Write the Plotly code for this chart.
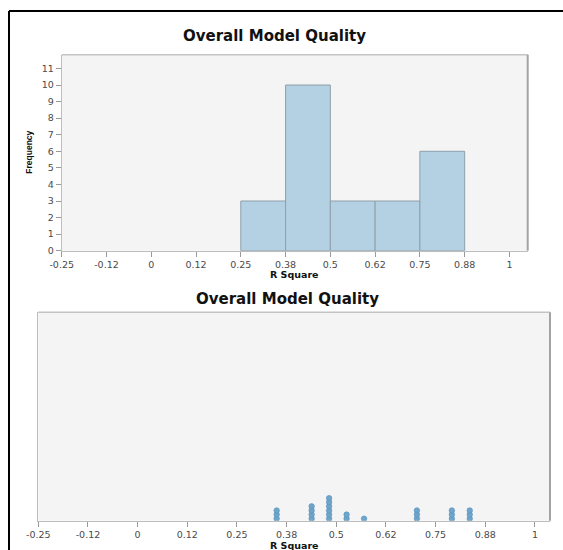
import plotly.graph_objects as go

# ---- data ----
r_square = [0.35, 0.35, 0.35,
            0.438, 0.438, 0.438, 0.438,
            0.482, 0.482, 0.482, 0.482, 0.482, 0.482,
            0.526, 0.526,
            0.570,
            0.703, 0.703, 0.703,
            0.791, 0.791, 0.791,
            0.836, 0.836, 0.836]
tick_vals = [-0.25, -0.125, 0, 0.125, 0.25, 0.375, 0.5, 0.625, 0.75, 0.875, 1]
tick_text = ["-0.25", "-0.12", "0", "0.12", "0.25", "0.38", "0.5", "0.62", "0.75", "0.88", "1"]
y_ticks = list(range(0, 12))
title_text = "Overall Model Quality"
x_title = "R Square"
y_title = "Frequency"

W, H = 563, 550
def xp(px): return px / W
def yp(py): return 1 - py / H

# stack positions for dot plot
stack_y = []
seen = {}
for v in r_square:
    k = seen.get(v, 0)
    stack_y.append(k + 0.5)
    seen[v] = k + 1

FONT = "Liberation Sans, Arial, sans-serif"
WIDE = "DejaVu Sans, Verdana, sans-serif"
BAR_FILL = "#b3d1e3"
BAR_LINE = "#8e9fab"
DOT = "#6ea6cb"
BG = "#f4f4f4"
AX = "#9a9a9a"

fig = go.Figure()
fig.add_trace(go.Histogram(
    x=r_square, xbins=dict(start=0.25, end=0.875, size=0.125), autobinx=False,
    marker=dict(color=BAR_FILL, line=dict(color=BAR_LINE, width=1)),
    xaxis="x", yaxis="y", showlegend=False, hoverinfo="skip"))
fig.add_trace(go.Scatter(
    x=r_square, y=stack_y, mode="markers",
    marker=dict(color=DOT, size=5.5, line=dict(color="#5b91b8", width=0.6)),
    xaxis="x2", yaxis="y2", showlegend=False, hoverinfo="skip"))

tickfont = dict(family=WIDE, size=9.5, color="#4a4a4a")
common_x = dict(tickmode="array", tickvals=tick_vals, ticktext=tick_text,
                ticks="outside", ticklen=5, tickcolor=AX, tickwidth=1,
                showgrid=False, zeroline=False, showline=True, linecolor="#bdbdbd",
                linewidth=1, tickfont=tickfont, fixedrange=True, automargin=False)

fig.update_layout(
    template="none",
    width=W, height=H, margin=dict(l=0, r=0, t=0, b=0, pad=0, autoexpand=False),
    paper_bgcolor="white", plot_bgcolor=BG, bargap=0,
    font=dict(family=FONT),
    xaxis=dict(domain=[xp(61.7), xp(527.7)], range=[-0.25, 1.051], anchor="y", **common_x),
    yaxis=dict(domain=[yp(250.7), yp(54.7)], range=[0, 11.83], anchor="x",
               tickmode="array", tickvals=y_ticks, ticks="outside", ticklen=5,
               tickcolor=AX, showgrid=False, zeroline=False, showline=True,
               linecolor="#bdbdbd", tickfont=tickfont, fixedrange=True, automargin=False),
    xaxis2=dict(domain=[xp(38.3), xp(550)], range=[-0.25, 1.038], anchor="y2", **common_x),
    yaxis2=dict(domain=[yp(520.7), yp(312.3)], range=[0, 50.8], anchor="x2",
                showticklabels=False, ticks="", showgrid=False, zeroline=False,
                showline=True, linecolor="#bdbdbd", fixedrange=True, automargin=False),
)

# plot frames: top border light, right border darker
for (x0, x1, y0, y1) in [(61.7, 527.7, 250.7, 54.7), (38.3, 550, 520.7, 312.3)]:
    fig.add_shape(type="line", xref="paper", yref="paper",
                  x0=xp(x0), x1=xp(x1), y0=yp(y1), y1=yp(y1),
                  line=dict(color="#c4c4c4", width=1.5))
    fig.add_shape(type="line", xref="paper", yref="paper",
                  x0=xp(x1), x1=xp(x1), y0=yp(y0), y1=yp(y1),
                  line=dict(color="#a3a3a3", width=2))

# outer black border
fig.add_shape(type="line", xref="paper", yref="paper",
              x0=xp(9), x1=1, y0=yp(11), y1=yp(11), line=dict(color="black", width=2))
fig.add_shape(type="line", xref="paper", yref="paper",
              x0=xp(9), x1=xp(9), y0=yp(11), y1=0, line=dict(color="black", width=2))

ann = [
    dict(text="<b>%s</b>" % title_text, x=xp(274), y=yp(36), size=15, angle=0, fam=WIDE),
    dict(text="<b>%s</b>" % title_text, x=xp(287.5), y=yp(299), size=15, angle=0, fam=WIDE),
    dict(text="<b>%s</b>" % x_title, x=xp(294.7), y=yp(274.5), size=9.5, angle=0, fam=WIDE),
    dict(text="<b>%s</b>" % x_title, x=xp(294.2), y=yp(545), size=9.5, angle=0, fam=WIDE),
    dict(text="<b>%s</b>" % y_title, x=xp(29), y=yp(152.7), size=8.5, angle=-90, fam=FONT),
]
for a in ann:
    fig.add_annotation(text=a["text"], x=a["x"], y=a["y"], xref="paper", yref="paper",
                       showarrow=False, xanchor="center", yanchor="middle",
                       textangle=a["angle"],
                       font=dict(family=a["fam"], size=a["size"], color="#111111"))

fig.write_html("out.html", config=dict(displayModeBar=False, staticPlot=True),
               post_script="document.body.style.margin='0';document.body.style.padding='0';"
                           "document.body.style.overflow='hidden';")
